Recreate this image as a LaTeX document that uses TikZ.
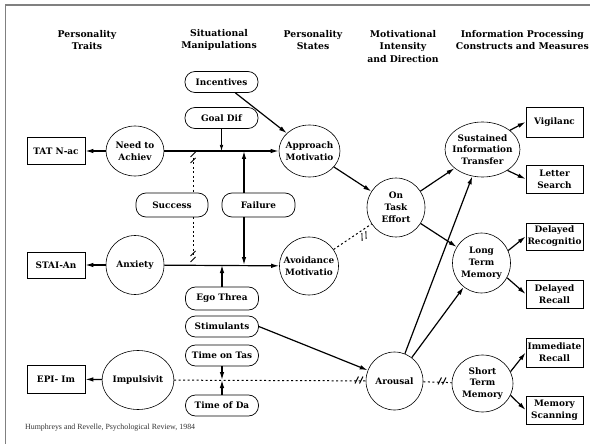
\documentclass[tikz,border=0pt]{standalone}
\usepackage{fontspec}
\setmainfont{DejaVu Serif}
\newfontfamily\footfont{Liberation Serif}
\usetikzlibrary{arrows.meta,shapes.geometric}
\begin{document}
\begin{tikzpicture}[x=1pt,y=-1pt,
  every node/.style={font=\bfseries\fontsize{8.9}{11.8}\selectfont, align=center, inner sep=0pt},
  head/.style={font=\bfseries\fontsize{9.3}{12.5}\selectfont},
  circ/.style={draw, ellipse, line width=0.6pt, fill=white},
  box/.style={draw, rectangle, line width=0.7pt, minimum width=58pt},
  pill/.style={draw, rectangle, rounded corners=10pt, line width=0.7pt, minimum width=73pt, minimum height=21pt},
  arr/.style={line width=1.2pt, -{Latex[length=8pt,width=4.5pt]}},
  sarr/.style={line width=0.7pt, -{Latex[length=6pt,width=3.5pt]}},
  dotline/.style={line width=1pt, dash pattern=on 2pt off 2.5pt},
  brk/.pic={\draw[line width=0.9pt] (-4,3.5) -- (-0.5,-3.5) (0.5,3.5) -- (4,-3.5);},
  brkv/.pic={\draw[line width=0.9pt] (-2.5,-1) -- (2.5,-6) (-2.5,5) -- (2.5,0);}
]
\useasboundingbox (0,0) rectangle (590,444);
% frame
\draw[gray, line width=1.5pt] (5.5,444) -- (5.5,5) -- (590,5);

% headings
\node[head] (h1) at (87,40) {Personality\\Traits};
\node[head] (h2) at (219,40) {Situational\\Manipulations};
\node[head] (h3) at (313,40) {Personality\\States};
\node[head] (h4) at (403,46.5) {Motivational\\Intensity\\and Direction};
\node[head, anchor=east] (h5) at (589,40) {Information Processing\\Constructs and Measures};

% left boxes
\node[box, minimum height=27pt] (tat) at (56,151) {TAT N-ac};
\node[box, minimum height=26pt] (stai) at (56,265) {STAI-An};
\node[box, minimum height=28pt] (epi) at (56,379) {EPI- Im};

% trait circles
\node[circ, minimum width=58pt, minimum height=50pt, label={center:{Need to\\Achiev}}] (need) at (135,151) {};
\node[circ, minimum width=58pt, minimum height=59pt] (anx) at (135,265) {Anxiety};
\node[circ, minimum width=62pt, minimum height=59pt] (imp) at (138,380) {Impulsivit};

% pills
\node[pill] (inc) at (221.5,82) {Incentives};
\node[pill] (goal) at (221.5,118) {Goal Dif};
\node[pill, minimum width=72pt, minimum height=24pt] (succ) at (172,205) {Success};
\node[pill, minimum height=24pt] (fail) at (258.5,205) {Failure};
\node[pill, minimum height=23pt] (ego) at (222,298.5) {Ego Threa};
\node[pill] (stim) at (222,326.5) {Stimulants};
\node[pill] (tot) at (222,355.5) {Time on Tas};
\node[pill] (tod) at (222,405.5) {Time of Da};

% state circles
\node[circ, minimum width=61pt, minimum height=52pt, label={center:{Approach\\Motivatio}}] (app) at (309.5,151) {};
\node[circ, minimum width=59pt, minimum height=58pt, label={center:{Avoidance\\Motivatio}}] (avo) at (309,266) {};
\node[circ, minimum width=58pt, minimum height=59pt, label={center:{On\\Task\\Effort}}] (ote) at (396,207.5) {};
\node[circ, minimum width=57pt, minimum height=58pt] (aro) at (394.5,381) {Arousal};

% processing circles
\node[circ, minimum width=75pt, minimum height=55pt, label={center:{Sustained\\Information\\Transfer}}] (sit) at (482.5,149.5) {};
\node[circ, minimum width=58pt, minimum height=60pt, label={center:{Long\\Term\\Memory}}] (ltm) at (481.5,263) {};
\node[circ, minimum width=61pt, minimum height=57pt, label={center:{Short\\Term\\Memory}}] (stm) at (482.5,383.5) {};

% right boxes
\node[box, minimum width=57pt, minimum height=30pt] (vig) at (554.5,122) {Vigilanc};
\node[box, minimum width=57pt, minimum height=28pt] (ls) at (554.5,179) {Letter\\Search};
\node[box, minimum width=57pt, minimum height=27pt] (drg) at (554.5,236.5) {Delayed\\Recognitio};
\node[box, minimum width=57pt, minimum height=28pt] (drc) at (554.5,294) {Delayed\\Recall};
\node[box, minimum width=57pt, minimum height=29pt] (ir) at (554.5,352.5) {Immediate\\Recall};
\node[box, minimum width=57pt, minimum height=28pt] (ms) at (554.5,410) {Memory\\Scanning};

% junction coordinates
\coordinate (g1) at (221.5,151);
\coordinate (f1) at (244,151);
\coordinate (f2) at (244,265);
\coordinate (e1) at (222,265);
\coordinate (s1) at (193,158);
\coordinate (s2) at (193,257);
\coordinate (t1) at (222,380);
\coordinate (ha) at (359,380);
\coordinate (hb) at (442,381);
\coordinate (hc) at (364,236);

% trait arrows
\draw[arr] (need) -- (tat);
\draw[arr] (anx) -- (stai);
\draw[arr] (imp) -- (epi);
\draw[arr] (need) -- (app);
\draw[arr] (anx) -- (avo);

% manipulations
\draw[arr] (inc) -- (app);
\draw[sarr] (goal) -- (g1);
\draw[arr] (fail.north -| f1) -- (f1);
\draw[arr] (fail.south -| f2) -- (f2);
\draw[arr] (ego) -- (e1);
\draw[dotline] (s1) -- (succ.north -| s1);
\draw[dotline] (succ.south -| s2) -- (s2);
\pic at (s1) {brkv};
\pic at (s2) {brkv};

% impulsivity / arousal chain
\draw[dotline] (imp) -- (aro);
\draw[dotline] (aro) -- (stm);
\pic at (ha) {brk};
\pic at (hb) {brk};
\draw[arr] (tot) -- (t1);
\draw[arr] (tod) -- (t1);
\draw[arr] (stim.east) -- (aro);

% states to effort
\draw[arr] (app) -- (ote);
\draw[dotline] (avo) -- (ote);
\pic[rotate=28] at (hc) {brk};
\draw[arr] (ote) -- (sit);
\draw[arr] (ote) -- (ltm);
\draw[arr] (aro) -- (sit);
\draw[arr] (aro) -- (ltm);

% measures
\draw[arr] (sit.35) -- (vig.west);
\draw[arr] (sit.-40) -- (ls.west);
\draw[arr] (ltm.25) -- (drg.west);
\draw[arr] (ltm.-30) -- (drc.west);
\draw[arr] (stm.23) -- (ir.west);
\draw[arr] (stm.-23) -- (ms.west);

% footer
\node[font=\footfont\fontsize{7.9}{9}\selectfont, anchor=west, text=black!80] (foot) at (25,427.5) {Humphreys and Revelle, Psychological Review, 1984};
\end{tikzpicture}
\end{document}
